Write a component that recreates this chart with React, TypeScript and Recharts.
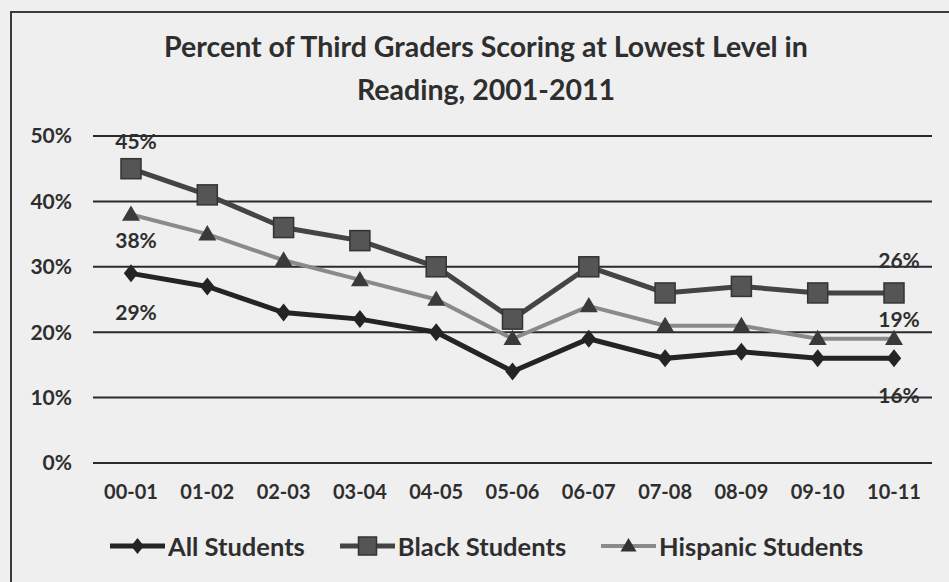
import React from "react";
import { CartesianGrid, LabelList, Line, LineChart, XAxis, YAxis } from "recharts";

const years = ["00-01", "01-02", "02-03", "03-04", "04-05", "05-06", "06-07", "07-08", "08-09", "09-10", "10-11"];
const allStudents = [29, 27, 23, 22, 20, 14, 19, 16, 17, 16, 16];
const blackStudents = [45, 41, 36, 34, 30, 22, 30, 26, 27, 26, 26];
const hispanicStudents = [38, 35, 31, 28, 25, 19, 24, 21, 21, 19, 19];
const yTicks = [0, 10, 20, 30, 40, 50];
const seriesNames = ["All Students", "Black Students", "Hispanic Students"];

const data = years.map((year, i) => ({
  year,
  all: allStudents[i],
  black: blackStudents[i],
  hispanic: hispanicStudents[i],
}));

const FONT = "Lato, 'Open Sans', sans-serif";
const TEXT = "#2e2e2e";
const last = years.length - 1;

function Diamond({ cx, cy, s = 8, fill }: any) {
  return <polygon points={`${cx},${cy - s} ${cx + s * 0.8},${cy} ${cx},${cy + s} ${cx - s * 0.8},${cy}`} fill={fill} />;
}
function Square({ cx, cy, s = 10, fill }: any) {
  return <rect x={cx - s} y={cy - s} width={s * 2} height={s * 2} fill={fill} stroke="#333" strokeWidth={1.5} />;
}
function Triangle({ cx, cy, s = 9, fill }: any) {
  return <polygon points={`${cx},${cy - s} ${cx + s},${cy + s * 0.7} ${cx - s},${cy + s * 0.7}`} fill={fill} />;
}

// first and last point labels, offset per series
const labelOffsets: Record<string, [number, number]> = {
  all: [38, 36],
  black: [-28, -33],
  hispanic: [25, -20],
};

function endLabel(key: string) {
  return (props: any) => {
    const { x, y, value, index } = props;
    if (index !== 0 && index !== last) return null;
    const dy = index === 0 ? labelOffsets[key][0] : labelOffsets[key][1];
    return (
      <text
        x={x + 5}
        y={y + dy}
        textAnchor="middle"
        dominantBaseline="central"
        fontFamily={FONT}
        fontWeight={700}
        fontSize={21}
        fill={TEXT}
      >
        {value}%
      </text>
    );
  };
}

function LegendIcon({ kind }: { kind: number }) {
  const stroke = kind === 0 ? "#242424" : kind === 1 ? "#444" : "#8a8a8a";
  return (
    <svg width={55} height={24} style={{ display: "block" }}>
      <line x1={0} y1={12} x2={55} y2={12} stroke={stroke} strokeWidth={kind === 2 ? 4 : 5} />
      {kind === 0 && <Diamond cx={27.5} cy={12} s={8} fill="#242424" />}
      {kind === 1 && <Square cx={27.5} cy={12} s={9} fill="#555" />}
      {kind === 2 && <Triangle cx={27.5} cy={12} s={8} fill="#333" />}
    </svg>
  );
}

export default function App() {
  return (
    <div style={{ position: "absolute", left: 0, top: 0, width: 949, height: 582, background: "#efefef", overflow: "hidden" }}>
      <div
        style={{
          position: "absolute",
          left: 10,
          top: 11,
          width: 960,
          height: 600,
          borderTop: "2px solid #3a3a3a",
          borderLeft: "2px solid #3a3a3a",
        }}
      />
      <div
        style={{
          position: "absolute",
          left: 0,
          top: 25,
          width: 972,
          textAlign: "center",
          fontFamily: FONT,
          fontWeight: 700,
          fontSize: 28.5,
          lineHeight: "43px",
          color: TEXT,
        }}
      >
        Percent of Third Graders Scoring at Lowest Level in
        <br />
        Reading, 2001-2011
      </div>
      <div style={{ position: "absolute", left: 0, top: 0 }}>
        <LineChart width={949} height={582} data={data} margin={{ top: 136, right: 17, bottom: 89, left: 0 }}>
          <CartesianGrid vertical={false} stroke="#2a2a2a" strokeWidth={2} />
          <XAxis
            dataKey="year"
            height={30}
            padding={{ left: 38, right: 38 }}
            axisLine={false}
            tickLine={false}
            tickSize={0}
            tickMargin={22}
            interval={0}
            tick={{ fill: TEXT, fontFamily: FONT, fontWeight: 700, fontSize: 20 }}
          />
          <YAxis
            width={93}
            domain={[0, 50]}
            ticks={yTicks}
            axisLine={false}
            tickLine={false}
            tickSize={0}
            tickMargin={21}
            tickFormatter={(v) => `${v}%`}
            tick={{ fill: TEXT, fontFamily: FONT, fontWeight: 700, fontSize: 21 }}
          />
          <Line
            dataKey="hispanic"
            name={seriesNames[2]}
            stroke="#8a8a8a"
            strokeWidth={4}
            isAnimationActive={false}
            dot={(p: any) => <Triangle key={`h${p.index}`} cx={p.cx} cy={p.cy} s={9} fill="#3a3a3a" />}
          >
            <LabelList dataKey="hispanic" content={endLabel("hispanic")} />
          </Line>
          <Line
            dataKey="black"
            name={seriesNames[1]}
            stroke="#444"
            strokeWidth={5}
            isAnimationActive={false}
            dot={(p: any) => <Square key={`b${p.index}`} cx={p.cx} cy={p.cy} s={10} fill="#555" />}
          >
            <LabelList dataKey="black" content={endLabel("black")} />
          </Line>
          <Line
            dataKey="all"
            name={seriesNames[0]}
            stroke="#242424"
            strokeWidth={5}
            isAnimationActive={false}
            dot={(p: any) => <Diamond key={`a${p.index}`} cx={p.cx} cy={p.cy} s={9} fill="#242424" />}
          >
            <LabelList dataKey="all" content={endLabel("all")} />
          </Line>
        </LineChart>
      </div>
      <div
        style={{
          position: "absolute",
          left: 110,
          top: 531,
          display: "flex",
          alignItems: "center",
          fontFamily: FONT,
          fontWeight: 700,
          fontSize: 25.5,
          color: TEXT,
        }}
      >
        {seriesNames.map((name, i) => (
          <div key={name} style={{ display: "flex", alignItems: "center", marginRight: 35 }}>
            <LegendIcon kind={i} />
            <span style={{ marginLeft: 3 }}>{name}</span>
          </div>
        ))}
      </div>
    </div>
  );
}
